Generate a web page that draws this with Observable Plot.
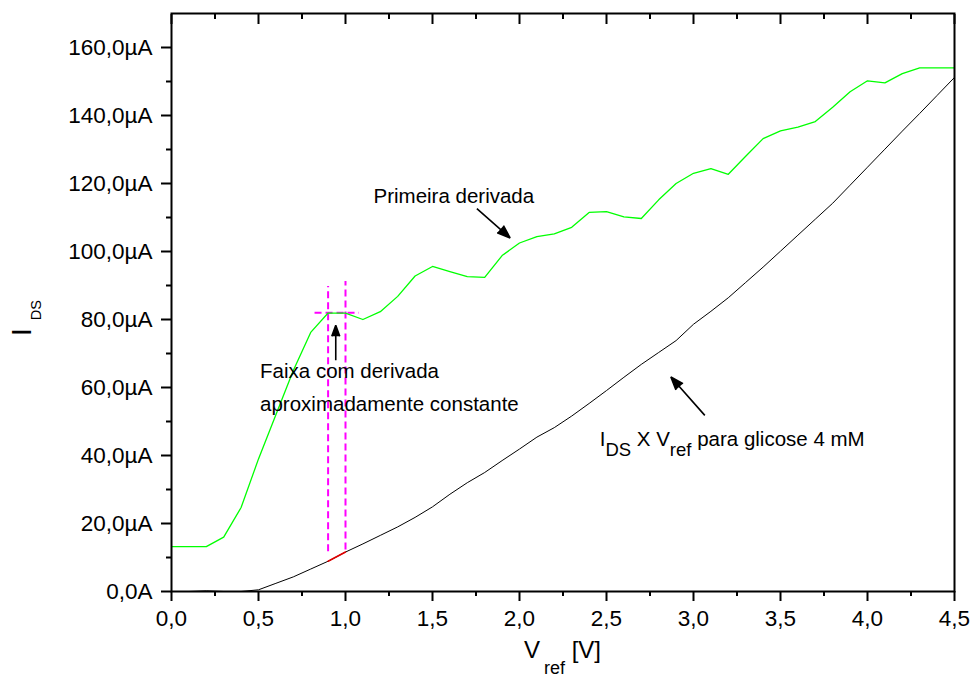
<!DOCTYPE html>
<html>
<head>
<meta charset="utf-8">
<script src="https://cdn.jsdelivr.net/npm/d3@7"></script>
<script src="https://cdn.jsdelivr.net/npm/@observablehq/plot@0.6"></script>
<style>
  html, body { margin: 0; padding: 0; background: #fff; }
  #chart { width: 974px; height: 686px; }
</style>
</head>
<body>
<div id="chart"></div>
<script>
// Tensão de referência (V)
const vref = [0.0, 0.1, 0.2, 0.3, 0.4, 0.5, 0.6, 0.7, 0.8, 0.9,
              1.0, 1.1, 1.2, 1.3, 1.4, 1.5, 1.6, 1.7, 1.8, 1.9,
              2.0, 2.1, 2.2, 2.3, 2.4, 2.5, 2.6, 2.7, 2.8, 2.9,
              3.0, 3.1, 3.2, 3.3, 3.4, 3.5, 3.6, 3.7, 3.8, 3.9,
              4.0, 4.1, 4.2, 4.3, 4.4, 4.5];

// I_DS para glicose 4 mM (µA)
const ids = [0.0, 0.0, 0.2, 0.0, 0.0, 0.5, 2.4, 4.3, 6.6, 8.9,
             11.6, 14.0, 16.5, 19.0, 21.8, 24.9, 28.6, 32.0, 35.0, 38.5,
             41.9, 45.4, 48.2, 51.6, 55.3, 59.1, 63.0, 66.8, 70.3, 73.8,
             78.6, 82.4, 86.4, 90.9, 95.4, 100.1, 104.8, 109.5, 114.2, 119.5,
             124.8, 130.1, 135.4, 140.6, 145.9, 151.2];

// Primeira derivada (escala em µA)
const derivada = [13.2, 13.2, 13.2, 16.0, 24.7, 39.0, 52.0, 65.0, 76.2, 81.9,
                  81.9, 80.0, 82.3, 86.8, 92.8, 95.6, 94.1, 92.6, 92.4, 98.8,
                  102.5, 104.4, 105.2, 107.1, 111.5, 111.7, 110.2, 109.7, 115.2, 120.0,
                  123.0, 124.4, 122.7, 128.0, 133.2, 135.5, 136.6, 138.2, 142.4, 147.0,
                  150.2, 149.6, 152.3, 154.0, 154.0, 154.0];

// Faixa com derivada aproximadamente constante
const faixaV = [0.9, 1.0];
const faixaTopo = [89.7, 91.2];
const faixaBase = [11.7, 12.2];
const faixaNivel = [82.0];
const faixaInicio = [0.825];
const faixaFim = [1.08];

// Marcas dos eixos
const xTicks = [0, 0.5, 1.0, 1.5, 2.0, 2.5, 3.0, 3.5, 4.0, 4.5];
const xMinor = [0.25, 0.75, 1.25, 1.75, 2.25, 2.75, 3.25, 3.75, 4.25];
const yTicks = [0, 20, 40, 60, 80, 100, 120, 140, 160];
const yMinor = [10, 30, 50, 70, 90, 110, 130, 150];

// Anotações (coordenadas nos eixos dos dados)
const notaTexto = ["Primeira derivada", "Faixa com derivada", "aproximadamente constante", "IDS X Vref para glicose 4 mM"];
const notaV = [1.161, 0.509, 0.509, 2.461];
const notaI = [114.4, 62.9, 53.0, 42.8];

// Setas: origem -> ponta
const setaV1 = [1.755, 0.944, 3.065];
const setaI1 = [112.6, 68.0, 51.8];
const setaV2 = [1.946, 0.944, 2.870];
const setaI2 = [104.0, 78.3, 63.1];

const rows = vref.map((v, k) => ({v, ids: ids[k], d: derivada[k]}));
const faixaRows = rows.filter(r => r.v >= faixaV[0] && r.v <= faixaV[1]);
const vlines = faixaV.map((v, k) => ({v, y1: faixaBase[k], y2: faixaTopo[k]}));
const hlines = faixaNivel.map((i, k) => ({i, x1: faixaInicio[k], x2: faixaFim[k]}));
const notas = notaTexto.map((t, k) => ({t, v: notaV[k], i: notaI[k]}));
const setas = setaV1.map((v, k) => ({x1: v, y1: setaI1[k], x2: setaV2[k], y2: setaI2[k]}));

const fmtX = d => d.toFixed(1).replace(".", ",");
const fmtY = d => d === 0 ? "0,0A" : d.toFixed(1).replace(".", ",") + "µA";
const blank = () => "";

const W = 974, H = 686;
const M = {top: 13, right: 20, bottom: 95, left: 171};
const FONT = "'Liberation Sans', Arial, Helvetica, sans-serif";
const TICK_FONT = 22.5;

const svgNode = Plot.plot({
  width: W,
  height: H,
  marginTop: M.top,
  marginRight: M.right,
  marginBottom: M.bottom,
  marginLeft: M.left,
  style: {fontFamily: FONT, fontSize: "21px", color: "black", background: "white", overflow: "visible"},
  x: {domain: [0, 4.5]},
  y: {domain: [0, 170]},
  marks: [
    // faixa (linhas tracejadas magenta)
    Plot.ruleX(vlines, {x: "v", y1: "y1", y2: "y2", stroke: "#ff00ff", strokeWidth: 2, strokeDasharray: "7,4"}),
    Plot.ruleY(hlines, {y: "i", x1: "x1", x2: "x2", stroke: "#ff00ff", strokeWidth: 2, strokeDasharray: "7,4"}),
    // curvas
    Plot.line(rows, {x: "v", y: "ids", stroke: "black", strokeWidth: 1}),
    Plot.line(faixaRows, {x: "v", y: "ids", stroke: "#e00000", strokeWidth: 1.6}),
    Plot.line(rows, {x: "v", y: "d", stroke: "#00ff00", strokeWidth: 1.3}),
    // setas
    Plot.arrow(setas, {x1: "x1", y1: "y1", x2: "x2", y2: "y2", stroke: "black", fill: "black",
      strokeWidth: 1.6, headLength: 13, headAngle: 40, strokeLinecap: "butt"}),
    // anotações
    Plot.text(notas, {x: "v", y: "i", text: "t", textAnchor: "start", lineAnchor: "bottom",
      fontSize: 20.5, fill: "black"}),
    // moldura
    Plot.frame({stroke: "black", strokeWidth: 2}),
    // eixo inferior
    Plot.axisX(xTicks, {anchor: "bottom", tickSize: 10, tickPadding: 9, tickFormat: fmtX,
      fontSize: TICK_FONT, strokeWidth: 2, label: null}),
    Plot.axisX(xMinor, {anchor: "bottom", tickSize: 5, tickFormat: blank, strokeWidth: 2, label: null}),
    // eixo superior (marcas para dentro)
    Plot.axisX(xTicks, {anchor: "top", tickSize: 10, dy: 10, tickFormat: blank, strokeWidth: 2, label: null}),
    Plot.axisX(xMinor, {anchor: "top", tickSize: 5, dy: 5, tickFormat: blank, strokeWidth: 2, label: null}),
    // eixo esquerdo
    Plot.axisY(yTicks, {anchor: "left", tickSize: 10, tickPadding: 9, tickFormat: fmtY,
      fontSize: TICK_FONT, strokeWidth: 2, label: null}),
    Plot.axisY(yMinor, {anchor: "left", tickSize: 5, tickFormat: blank, strokeWidth: 2, label: null})
  ]
});

document.getElementById("chart").appendChild(svgNode);
const svg = d3.select(svgNode);

// Texto com subscritos dentro do gráfico
const rich = [
  {plain: "IDS X Vref para glicose 4 mM",
   parts: [{t: "I"}, {t: "DS", sub: true}, {t: " X V"}, {t: "ref", sub: true}, {t: " para glicose 4 mM"}]}
];
rich.forEach(({plain, parts}) => {
  svg.selectAll("text").filter(function () { return this.textContent === plain; }).each(function () {
    const el = d3.select(this);
    el.text(null);
    let down = false;
    parts.forEach(p => {
      const ts = el.append("tspan").text(p.t);
      if (p.sub) { ts.attr("dy", 10).attr("font-size", 18.5); down = true; }
      else if (down) { ts.attr("dy", -10); down = false; }
    });
  });
});

// Títulos dos eixos
const cx = M.left + (W - M.left - M.right) / 2;
const xt = svg.append("text")
  .attr("x", cx).attr("y", 658)
  .attr("text-anchor", "middle")
  .attr("font-family", FONT).attr("fill", "black").attr("font-size", 24);
xt.append("tspan").text("V");
xt.append("tspan").attr("dx", 4).attr("dy", 16).attr("font-size", 18).text("ref");
xt.append("tspan").attr("dy", -16).text(" [V]");

const yt = svg.append("text")
  .attr("transform", "translate(31,336) rotate(-90)")
  .attr("text-anchor", "start")
  .attr("font-family", FONT).attr("fill", "black");
yt.append("tspan").attr("font-size", 28).text("I");
yt.append("tspan").attr("font-size", 14.5).attr("dx", 8).attr("dy", 10).text("DS");
</script>
</body>
</html>
